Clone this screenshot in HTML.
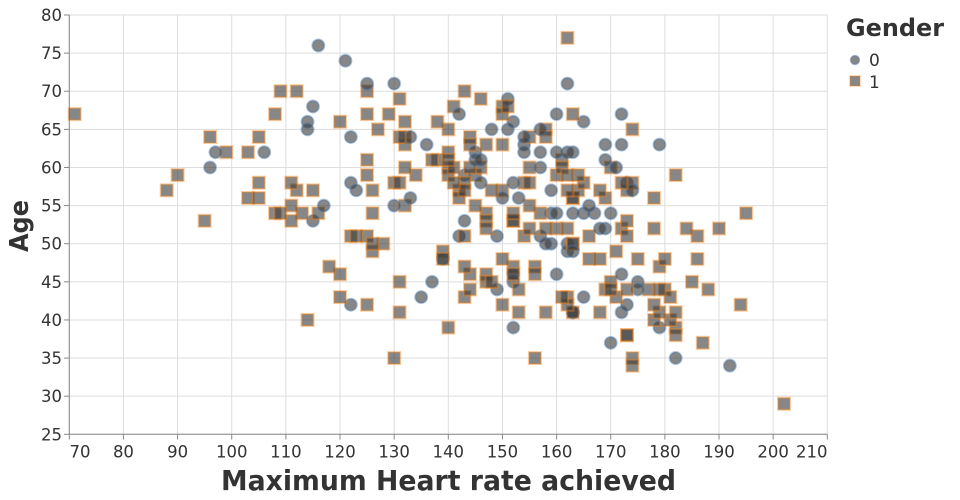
<!DOCTYPE html>
<html><head><meta charset="utf-8"><style>
html,body{margin:0;padding:0;background:#fff;}
svg{display:block;}
text{font-family:"DejaVu Sans","Liberation Sans",sans-serif;fill:#333;}
</style></head><body>
<svg id="c" width="960" height="500" viewBox="0 0 960 500" xmlns="http://www.w3.org/2000/svg">
<g id="grid" stroke="#ddd" stroke-width="1" fill="none"></g>
<g id="axes"></g>
<g id="pts"></g>
<g id="labels" font-size="16.5"></g>
<text x="448.5" y="490" font-size="28" font-weight="bold" text-anchor="middle" textLength="455" lengthAdjust="spacingAndGlyphs">Maximum Heart rate achieved</text>
<text transform="translate(28,226) rotate(-90)" font-size="26" font-weight="bold" text-anchor="middle" textLength="52" lengthAdjust="spacingAndGlyphs">Age</text>
<text x="846" y="36" font-size="24" font-weight="bold" textLength="98" lengthAdjust="spacingAndGlyphs">Gender</text>
<circle cx="855" cy="60" r="4.5" fill="#3d3d3d" fill-opacity="0.62" stroke="#4c78a8" stroke-width="1.5" stroke-opacity="0.42"/>
<text x="869" y="66" font-size="17">0</text>
<rect x="850" y="76" width="10" height="10" fill="#3d3d3d" fill-opacity="0.62" stroke="#f58518" stroke-width="1.5" stroke-opacity="0.42"/>
<text x="869" y="88" font-size="17">1</text>
</svg>
<script>
(function(){
var NS="http://www.w3.org/2000/svg";
function X(v){return 69.3+(v-70)*5.4143;}
function Y(v){return 15+(80-v)*7.6236;}
function el(p,n,a){var e=document.createElementNS(NS,n);for(var k in a)e.setAttribute(k,a[k]);p.appendChild(e);return e;}
var grid=document.getElementById('grid'),axes=document.getElementById('axes'),lab=document.getElementById('labels');
for(var v=70;v<=210;v+=10){var x=X(v);el(grid,'line',{x1:x,x2:x,y1:15,y2:434.3});
 el(axes,'line',{x1:x,x2:x,y1:434.3,y2:439.5,stroke:'#888','stroke-width':1});
 var anchor='middle';if(v==70)anchor='start';if(v==210)anchor='end';
 var t=el(lab,'text',{x:(v==70?69.5:(v==210?827.5:x)),y:457.5,'text-anchor':anchor});t.textContent=v;}
for(var v=25;v<=80;v+=5){var y=Y(v);el(grid,'line',{x1:69.3,x2:827.3,y1:y,y2:y});
 el(axes,'line',{x1:64,x2:69.3,y1:y,y2:y,stroke:'#888','stroke-width':1});
 var t=el(lab,'text',{x:62,y:y+6,'text-anchor':'end'});t.textContent=v;}
el(axes,'line',{x1:69.3,x2:69.3,y1:15,y2:434.3,stroke:'#888','stroke-width':1});
el(axes,'line',{x1:69.3,x2:827.3,y1:434.3,y2:434.3,stroke:'#888','stroke-width':1});
var c0=[[116,76],[115,68],[114,66],[114,65],[97,62],[106,62],[96,60],[115,53],[117,55],
[121,74],[125,71],[130,71],[122,64],[133,64],[136,63],[142,67],[151,69],[152,66],[151,65],[148,65],[145,62],[146,61],[145,61],[143,59],[122,58],[123,57],[130,55],[133,56],[146,58],[150,56],[152,58],[153,56],[157,60],[157,62],[154,64],[154,63],[154,62],[157,65],[160,67],[162,71],[160,62],[162,62],[159,57],[163,54],[159,54],[160,54],[143,53],
[172,67],[165,66],[169,63],[172,63],[179,63],[163,62],[169,61],[171,60],[173,58],[174,57],[166,55],[165,54],[167,54],[170,54],
[168,52],[169,52],[163,49],[172,46],[175,45],[175,44],[165,43],[163,41],[172,41],[173,42],[179,39],[170,37],[182,35],[192,34],
[122,42],[135,43],[137,45],[139,48],[142,51],[149,51],[157,51],[159,50],[158,50],[162,50],[162,49],[152,46],[152,45],[160,46],[149,44],[152,39],[163,41]];
var c1=[[109,70],[112,70],[108,67],[71,67],[96,64],[105,64],[99,62],[103,62],[90,59],[88,57],[105,58],[103,56],[105,56],[111,58],[112,57],[115,57],[108,54],[109,54],[111,55],[113,54],[116,54],[111,53],[95,53],[114,40],[118,47],
[125,70],[131,69],[120,66],[125,67],[129,67],[127,65],[132,66],[131,64],[132,64],[132,63],[138,66],[140,65],[143,70],[146,69],[141,68],[150,68],[150,67],[151,68],[144,64],[144,63],[147,63],[150,63],[140,62],[137,61],[138,61],[140,61],[140,60],[141,60],[140,59],[141,58],[142,57],[143,58],[144,60],[145,59],[146,60],[125,61],[125,59],[132,60],[134,59],[126,57],[130,58],[131,58],[132,55],[126,54],[148,57],[150,57],[154,58],[155,58],[155,60],[155,64],[158,65],[158,64],[163,67],[162,77],[161,61],[160,59],[162,59],[161,60],[162,57],[163,56],[157,54],[155,55],[152,54],[152,53],[147,54],[145,55],[142,56],[143,57],[147,53],
[174,65],[170,60],[182,59],[165,58],[172,58],[174,58],[173,57],[168,57],[169,56],[178,56],[164,57],[163,56],[164,59],[173,53],[195,54],[178,52],[184,52],[190,52],
[186,51],[166,51],[172,52],[173,51],[163,50],[171,49],[166,48],[168,48],[175,48],[180,48],[179,47],[186,48],[185,45],[188,44],[194,42],[170,45],[169,44],[170,44],[171,43],[173,44],[177,44],[179,44],[180,44],[181,43],[168,41],[178,42],[179,41],[178,40],[182,41],[181,40],[182,39],[182,38],[173,38],[173,38],[187,37],[174,35],[174,34],[202,29],
[122,51],[123,51],[125,51],[126,50],[126,49],[128,50],[120,46],[120,43],[125,42],[131,45],[131,41],[139,49],[139,48],[140,39],[130,35],[143,51],[147,52],[152,53],[154,51],[155,52],[158,52],[160,52],[162,52],[163,50],[143,47],[144,46],[150,48],[152,47],[152,46],[156,47],[156,46],[147,46],[147,45],[148,45],[144,44],[143,43],[153,44],[150,42],[153,41],[158,41],[161,43],[162,43],[162,42],[163,41],[156,35]];
var pts=document.getElementById('pts');
var all=[];c0.forEach(function(p){all.push([p[0],p[1],0]);});c1.forEach(function(p){all.push([p[0],p[1],1]);});
all.sort(function(a,b){return ((a[0]*31+a[1]*17)%23)-((b[0]*31+b[1]*17)%23);});
all.forEach(function(p){var x=X(p[0]),y=Y(p[1]);
 if(p[2]==0){el(pts,'circle',{cx:x,cy:y,r:6,fill:'#3d3d3d','fill-opacity':0.62,stroke:'#4c78a8','stroke-width':2,'stroke-opacity':0.42});}
 else{el(pts,'rect',{x:x-6,y:y-6,width:12,height:12,fill:'#3d3d3d','fill-opacity':0.62,stroke:'#f58518','stroke-width':2,'stroke-opacity':0.42});}
});
})();
</script>
</body></html>
